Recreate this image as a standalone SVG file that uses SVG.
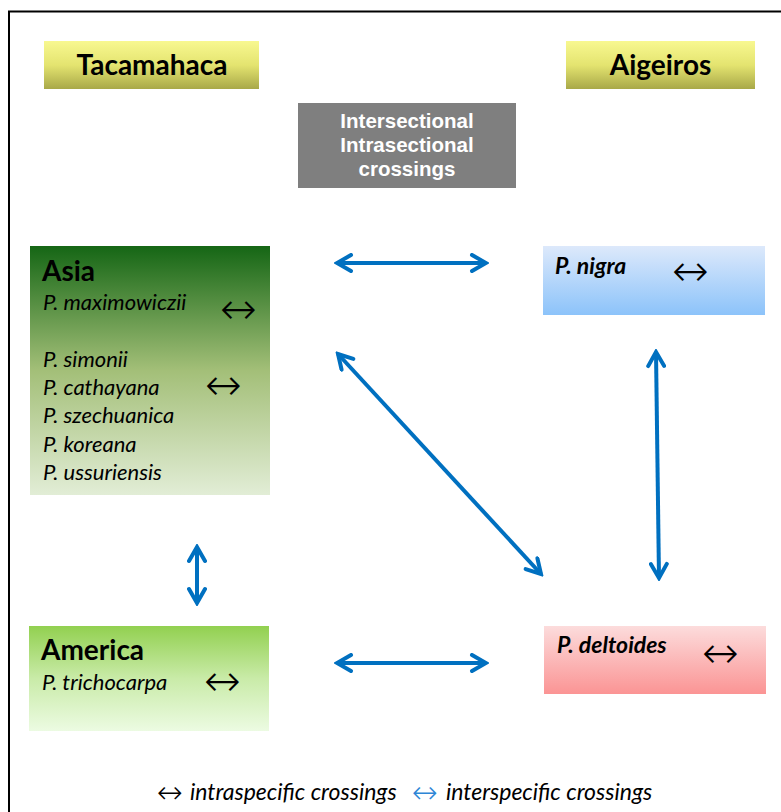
<svg xmlns="http://www.w3.org/2000/svg" width="781" height="812" viewBox="0 0 781 812">
<defs>
<linearGradient id="gYel" x1="0" y1="0" x2="0" y2="1"><stop offset="0" stop-color="#f8f890"/><stop offset="0.5" stop-color="#e4e470"/><stop offset="1" stop-color="#a8a848"/></linearGradient>
<linearGradient id="gAsia" x1="0" y1="0" x2="0" y2="1"><stop offset="0" stop-color="#156615"/><stop offset="0.5" stop-color="#a3bf78"/><stop offset="1" stop-color="#e2edd6"/></linearGradient>
<linearGradient id="gAm" x1="0" y1="0" x2="0" y2="1"><stop offset="0" stop-color="#92d050"/><stop offset="0.5" stop-color="#c9eba8"/><stop offset="1" stop-color="#ecfbe2"/></linearGradient>
<linearGradient id="gBlue" x1="0" y1="0" x2="0" y2="1"><stop offset="0" stop-color="#dde9fb"/><stop offset="1" stop-color="#8cc3fa"/></linearGradient>
<linearGradient id="gRed" x1="0" y1="0" x2="0" y2="1"><stop offset="0" stop-color="#fcdcdc"/><stop offset="1" stop-color="#fb9494"/></linearGradient>
<marker id="ah" viewBox="0 0 20 20" refX="17" refY="10" markerWidth="20" markerHeight="20" markerUnits="userSpaceOnUse" orient="auto-start-reverse">
<path d="M3,2 L17,10 L3,18" fill="none" stroke="#0070c0" stroke-width="4" stroke-linecap="round" stroke-linejoin="miter"/>
</marker>
</defs>
<style>
.sec{font-family:Lato,"Open Sans","Liberation Sans",sans-serif;font-weight:bold;font-size:28px;fill:#000}
.hd{font-family:Lato,"Open Sans","Liberation Sans",sans-serif;font-weight:bold;font-size:28px;fill:#000}
.sp{font-family:Lato,"Open Sans","Liberation Sans",sans-serif;font-style:italic;font-size:22px;fill:#000}
.spb{font-family:Lato,"Open Sans","Liberation Sans",sans-serif;font-style:italic;font-weight:bold;font-size:23px;fill:#000}
.ar{font-family:"DejaVu Sans",sans-serif;font-weight:200;font-size:44px;fill:#000}
.gr{font-family:"Liberation Sans",Arial,sans-serif;font-weight:bold;font-size:20.5px;fill:#fff}
.lg{font-family:Lato,"Open Sans","Liberation Sans",sans-serif;font-style:italic;font-size:23px;fill:#000}
.conn{stroke:#0070c0;stroke-width:4;fill:none;marker-start:url(#ah);marker-end:url(#ah)}
</style>
<rect x="0" y="0" width="781" height="812" fill="#fff"/>
<path d="M9,812 V11.5 H781" fill="none" stroke="#000" stroke-width="2"/>

<g id="tacamahaca">
<rect x="44" y="41" width="215" height="48" fill="url(#gYel)"/>
<text class="sec" x="152" y="75" text-anchor="middle">Tacamahaca</text>
</g>
<g id="aigeiros">
<rect x="566" y="41" width="189" height="48" fill="url(#gYel)"/>
<text class="sec" x="660.5" y="75" text-anchor="middle">Aigeiros</text>
</g>
<g id="crossings">
<rect x="298" y="103" width="218" height="85" fill="#7f7f7f"/>
<text class="gr" x="407" y="128" text-anchor="middle">Intersectional</text>
<text class="gr" x="407" y="152" text-anchor="middle">Intrasectional</text>
<text class="gr" x="407" y="176" text-anchor="middle">crossings</text>
</g>
<g id="asia">
<rect x="30" y="246" width="240" height="249" fill="url(#gAsia)"/>
<text class="hd" x="42" y="281">Asia</text>
<text class="sp" x="43" y="310">P. maximowiczii</text>
<text class="ar" x="220" y="324">↔</text>
<text class="sp" x="43" y="367">P. simonii</text>
<text class="sp" x="43" y="395">P. cathayana</text>
<text class="ar" x="205" y="400">↔</text>
<text class="sp" x="43" y="423">P. szechuanica</text>
<text class="sp" x="43" y="452">P. koreana</text>
<text class="sp" x="43" y="480">P. ussuriensis</text>
</g>
<g id="nigra">
<rect x="543" y="246" width="222" height="69" fill="url(#gBlue)"/>
<text class="spb" x="555" y="274">P. nigra</text>
<text class="ar" x="672" y="286">↔</text>
</g>
<g id="america">
<rect x="29" y="626" width="240" height="105" fill="url(#gAm)"/>
<text class="hd" x="41" y="660">America</text>
<text class="sp" x="42" y="690">P. trichocarpa</text>
<text class="ar" x="204" y="696">↔</text>
</g>
<g id="deltoides">
<rect x="544" y="626" width="222" height="68" fill="url(#gRed)"/>
<text class="spb" x="557" y="653">P. deltoides</text>
<text class="ar" x="702" y="668">↔</text>
</g>
<g id="connectors">
<line class="conn" x1="337" y1="263" x2="486" y2="263"/>
<line class="conn" x1="337" y1="663" x2="486" y2="663"/>
<line class="conn" x1="338" y1="354" x2="541" y2="574"/>
<line class="conn" x1="656" y1="352" x2="659" y2="578"/>
<line class="conn" x1="197" y1="547" x2="197" y2="603"/>
</g>
<g id="legend">
<text class="ar" x="157" y="803" style="font-size:31px">↔</text>
<text class="lg" x="190" y="800">intraspecific crossings</text>
<text class="ar" x="412" y="803" style="font-size:31px;fill:#2e86d6">↔</text>
<text class="lg" x="446" y="800">interspecific crossings</text>
</g>
</svg>
